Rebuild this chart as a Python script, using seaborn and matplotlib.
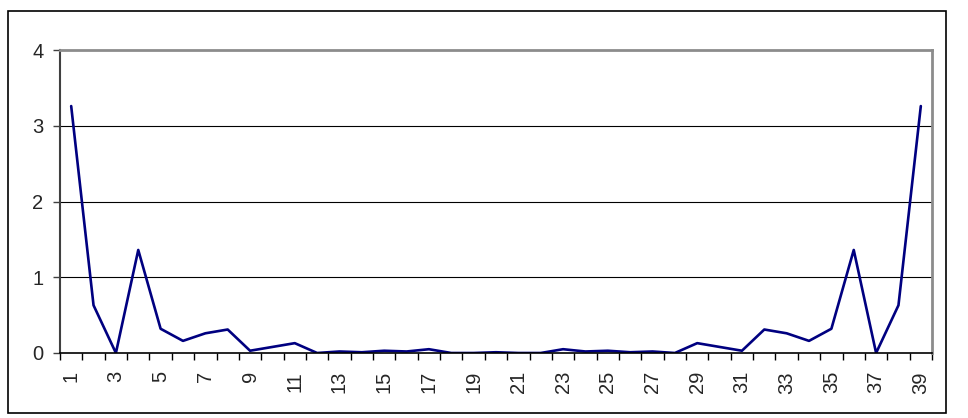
import matplotlib
matplotlib.use("Agg")
import matplotlib.pyplot as plt
from matplotlib.patches import Rectangle
import seaborn as sns
import pandas as pd
import numpy as np

# Series values for categories 1..39
categories = list(range(1, 40))
values = [3.26, 0.63, 0.00, 1.36, 0.32, 0.16, 0.26, 0.31, 0.03, 0.08,
          0.13, 0.00, 0.02, 0.01, 0.03, 0.02, 0.05, 0.00, 0.00, 0.01,
          0.00, 0.00, 0.05, 0.02, 0.03, 0.01, 0.02, 0.00, 0.13, 0.08,
          0.03, 0.31, 0.26, 0.16, 0.32, 1.36, 0.00, 0.63, 3.26]
y_ticks = [0, 1, 2, 3, 4]
x_labels = [str(c) for c in categories[::2]]

df = pd.DataFrame({"cat": categories, "val": values})

sns.set_theme(style="white")
plt.rcParams["font.family"] = ["Liberation Sans", "DejaVu Sans"]

fig = plt.figure(figsize=(9.68, 4.18), dpi=100)
ax = fig.add_axes([60 / 968, 1 - 353 / 418, (932 - 60) / 968, (353 - 50) / 418])

sns.lineplot(data=df, x="cat", y="val", ax=ax, color="#000080", linewidth=1.9)

ax.set_xlim(0.5, 39.5)
ax.set_ylim(0, 4)
ax.set_xlabel("")
ax.set_ylabel("")

# horizontal gridlines
for yv in y_ticks[1:-1]:
    ax.axhline(yv, color="black", linewidth=0.8, zorder=0)

ax.set_yticks(y_ticks)
ax.set_yticklabels([str(v) for v in y_ticks], fontsize=14.5)
ax.tick_params(axis="y", direction="out", length=5, width=1, color="#404040",
               left=True, pad=7)

# tick marks on category boundaries, labels on every other category
ax.set_xticks(np.arange(0.5, 40, 1))
ax.set_xticklabels([])
ax.tick_params(axis="x", which="major", direction="out", length=5, width=1,
               color="black", bottom=True)
ax.set_xticks(categories[::2], minor=True)
ax.set_xticklabels(x_labels, minor=True, rotation=90, fontsize=14.5,
                   va="top", ha="center")
ax.tick_params(axis="x", which="minor", length=0, pad=13)

for side in ["top", "right"]:
    ax.spines[side].set_color("#8c8c8c")
    ax.spines[side].set_linewidth(2)
ax.spines["left"].set_color("#404040")
ax.spines["left"].set_linewidth(1.5)
ax.spines["bottom"].set_color("black")
ax.spines["bottom"].set_linewidth(1.2)

# outer chart frame
fig.patches.append(Rectangle((8 / 968, 1 - 413 / 418), (946 - 8) / 968,
                             (413 - 11) / 418, transform=fig.transFigure,
                             fill=False, edgecolor="black", linewidth=1.2))

fig.savefig("out.png", dpi=100)
